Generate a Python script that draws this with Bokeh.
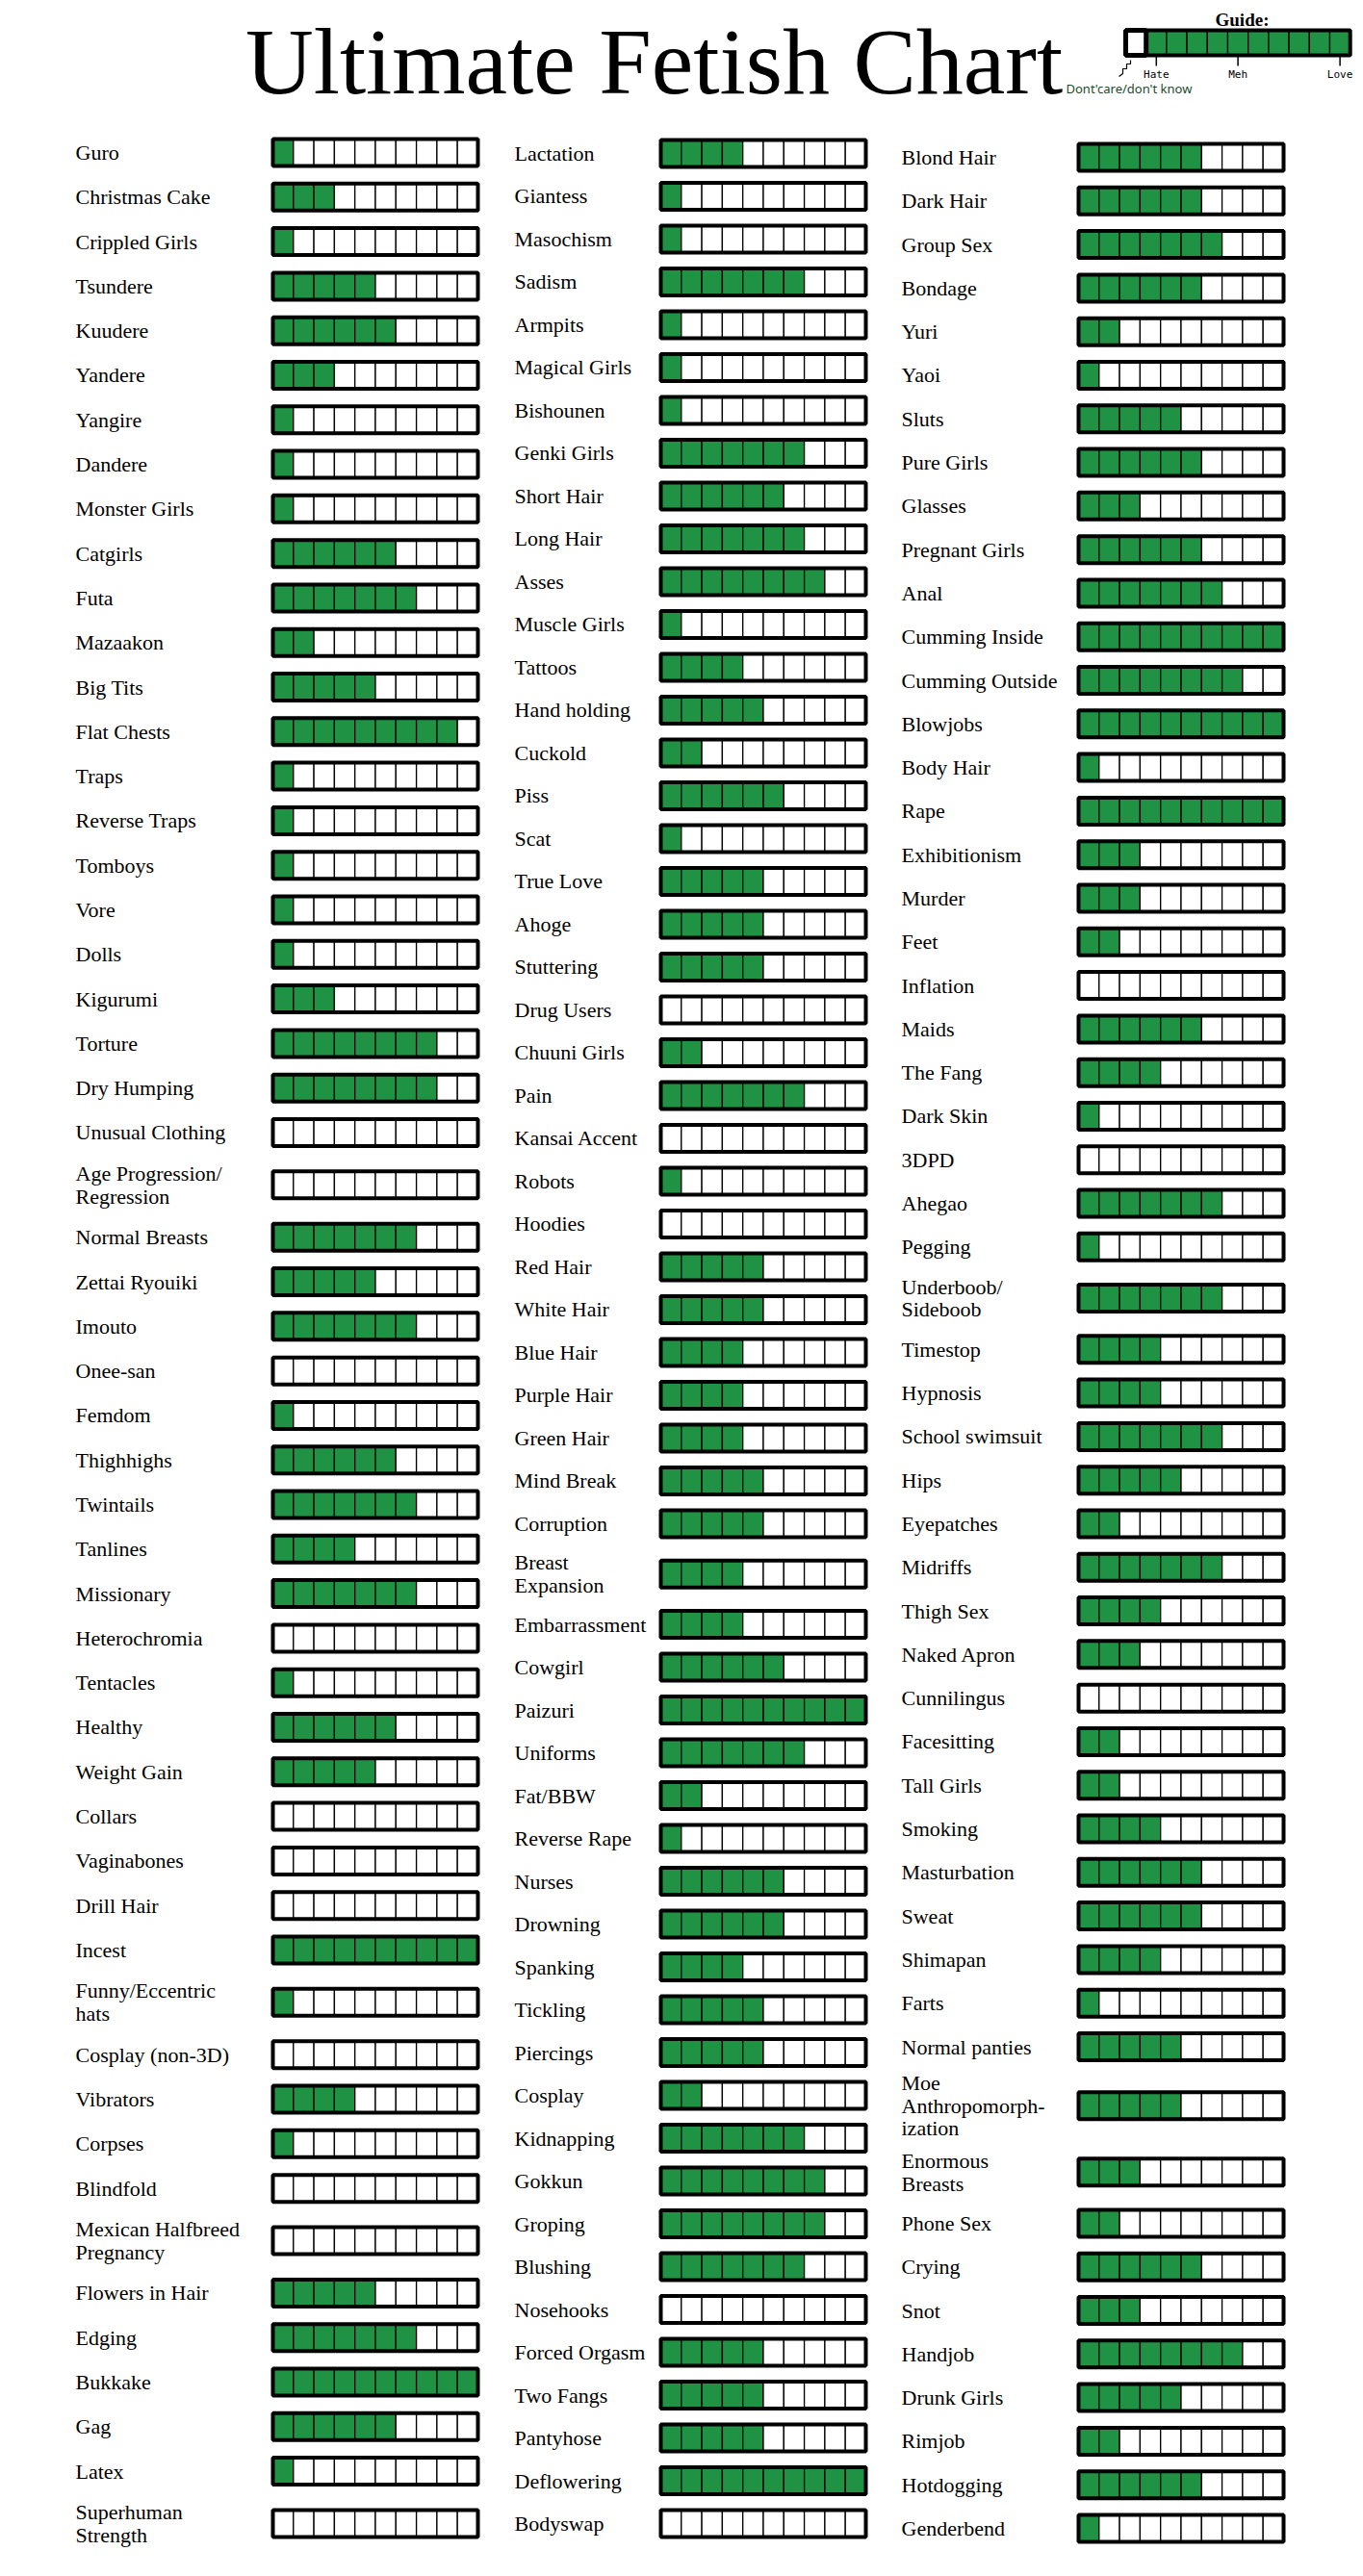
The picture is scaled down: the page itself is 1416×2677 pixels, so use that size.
from bokeh.plotting import figure
from bokeh.models import Range1d, ColumnDataSource
from bokeh.embed import file_html
from bokeh.resources import INLINE
from bokeh.core.properties import value

# ---------------- data ----------------
title = "Ultimate Fetish Chart"
guide_ticks = ["Hate", "Meh", "Love"]
guide_tick_levels = [1, 5, 10]

col1_labels = [
    "Guro", "Christmas Cake", "Crippled Girls", "Tsundere", "Kuudere",
    "Yandere", "Yangire", "Dandere", "Monster Girls", "Catgirls", "Futa",
    "Mazaakon", "Big Tits", "Flat Chests", "Traps", "Reverse Traps",
    "Tomboys", "Vore", "Dolls", "Kigurumi", "Torture", "Dry Humping",
    "Unusual Clothing", "Age Progression/\nRegression", "Normal Breasts",
    "Zettai Ryouiki", "Imouto", "Onee-san", "Femdom", "Thighhighs",
    "Twintails", "Tanlines", "Missionary", "Heterochromia", "Tentacles",
    "Healthy", "Weight Gain", "Collars", "Vaginabones", "Drill Hair",
    "Incest", "Funny/Eccentric\nhats", "Cosplay (non-3D)", "Vibrators",
    "Corpses", "Blindfold", "Mexican Halfbreed\nPregnancy", "Flowers in Hair",
    "Edging", "Bukkake", "Gag", "Latex", "Superhuman\nStrength",
]
col1_values = [
    1, 3, 1, 5, 6,
    3, 1, 1, 1, 6, 7,
    2, 5, 9, 1, 1,
    1, 1, 1, 3, 8, 8,
    0, 0, 7,
    5, 7, 0, 1, 6,
    7, 4, 7, 0, 1,
    6, 5, 0, 0, 0,
    10, 1, 0, 4,
    1, 0, 0, 5,
    7, 10, 6, 1, 0,
]

col2_labels = [
    "Lactation", "Giantess", "Masochism", "Sadism", "Armpits",
    "Magical Girls", "Bishounen", "Genki Girls", "Short Hair", "Long Hair",
    "Asses", "Muscle Girls", "Tattoos", "Hand holding", "Cuckold", "Piss",
    "Scat", "True Love", "Ahoge", "Stuttering", "Drug Users", "Chuuni Girls",
    "Pain", "Kansai Accent", "Robots", "Hoodies", "Red Hair", "White Hair",
    "Blue Hair", "Purple Hair", "Green Hair", "Mind Break", "Corruption",
    "Breast\nExpansion", "Embarrassment", "Cowgirl", "Paizuri", "Uniforms",
    "Fat/BBW", "Reverse Rape", "Nurses", "Drowning", "Spanking", "Tickling",
    "Piercings", "Cosplay", "Kidnapping", "Gokkun", "Groping", "Blushing",
    "Nosehooks", "Forced Orgasm", "Two Fangs", "Pantyhose", "Deflowering",
    "Bodyswap",
]
col2_values = [
    4, 1, 1, 7, 1,
    1, 1, 7, 6, 7,
    8, 1, 4, 5, 2, 6,
    1, 5, 5, 5, 0, 2,
    7, 0, 1, 0, 5, 5,
    4, 4, 4, 5, 5,
    4, 4, 6, 10, 7,
    2, 1, 6, 6, 4, 5,
    5, 2, 7, 8, 8, 7,
    0, 5, 5, 5, 10,
    0,
]

col3_labels = [
    "Blond Hair", "Dark Hair", "Group Sex", "Bondage", "Yuri", "Yaoi",
    "Sluts", "Pure Girls", "Glasses", "Pregnant Girls", "Anal",
    "Cumming Inside", "Cumming Outside", "Blowjobs", "Body Hair",
    "Rape", "Exhibitionism", "Murder", "Feet", "Inflation", "Maids",
    "The Fang", "Dark Skin", "3DPD", "Ahegao", "Pegging",
    "Underboob/\nSideboob", "Timestop", "Hypnosis", "School swimsuit",
    "Hips", "Eyepatches", "Midriffs", "Thigh Sex", "Naked Apron",
    "Cunnilingus", "Facesitting", "Tall Girls", "Smoking", "Masturbation",
    "Sweat", "Shimapan", "Farts", "Normal panties",
    "Moe\nAnthropomorph-\nization", "Enormous\nBreasts", "Phone Sex",
    "Crying", "Snot", "Handjob", "Drunk Girls", "Rimjob", "Hotdogging",
    "Genderbend",
]
col3_values = [
    6, 6, 7, 6, 2, 1,
    5, 6, 3, 6, 7,
    10, 8, 10, 1,
    10, 3, 3, 2, 0, 6,
    4, 1, 0, 7, 1,
    7, 4, 4, 7,
    5, 2, 7, 4, 3,
    0, 2, 2, 4, 6,
    6, 4, 1, 5,
    5, 3, 2,
    6, 3, 8, 5, 2, 6,
    1,
]

# ---------------- layout / style ----------------
GREEN = "#1f9343"
LABEL_FONT = value("Liberation Serif")
N_CELLS = 10
BAR_W = 213.0
BAR_H = 28.0
EXTRA_PER_LINE = 0.35   # extra row room for multi-line labels

columns = [
    dict(labels=col1_labels, values=col1_values, label_x=78, bar_x=283, y0=158, y1=2622),
    dict(labels=col2_labels, values=col2_values, label_x=534, bar_x=686, y0=159, y1=2622),
    dict(labels=col3_labels, values=col3_values, label_x=936, bar_x=1120, y0=163, y1=2627),
]

W, H = 1416, 2677
p = figure(width=W, height=H,
           x_range=Range1d(0, W), y_range=Range1d(H, 0),
           output_backend="svg", toolbar_location=None, min_border=0,
           x_axis_location=None, y_axis_location=None)
p.grid.visible = False
p.outline_line_color = None
p.background_fill_color = "white"
p.border_fill_color = "white"


def row_centres(labels, y0, y1):
    w = [1.0 + EXTRA_PER_LINE * (s.count("\n")) for s in labels]
    pos, acc = [], 0.0
    for i, wi in enumerate(w):
        if i > 0:
            acc += (w[i - 1] + wi) / 2.0
        pos.append(acc)
    unit = (y1 - y0) / pos[-1]
    return [y0 + q * unit for q in pos]


cw = BAR_W / N_CELLS
for col in columns:
    labs, vals = col["labels"], col["values"]
    n = len(labs)
    ys = row_centres(labs, col["y0"], col["y1"])

    cl, cr, ct, cb, cf = [], [], [], [], []
    ol, orr, ot, ob = [], [], [], []
    for y, v in zip(ys, vals):
        for j in range(N_CELLS):
            cl.append(col["bar_x"] + j * cw)
            cr.append(col["bar_x"] + (j + 1) * cw)
            ct.append(y - BAR_H / 2)
            cb.append(y + BAR_H / 2)
            cf.append(GREEN if j < v else "white")
        ol.append(col["bar_x"]); orr.append(col["bar_x"] + BAR_W)
        ot.append(y - BAR_H / 2); ob.append(y + BAR_H / 2)

    p.quad(left=cl, right=cr, top=ct, bottom=cb, fill_color=cf,
           line_color="black", line_width=1.3)
    p.quad(left=ol, right=orr, top=ot, bottom=ob, fill_color=None,
           line_color="black", line_width=4)

    src = ColumnDataSource(dict(x=[col["label_x"]] * n, y=ys, t=labs))
    p.text(x="x", y="y", text="t", source=src, text_font=LABEL_FONT,
           text_font_size="22px", text_baseline="middle", text_align="left",
           text_color="black", text_line_height=0.95)

# ---------------- title ----------------
p.text(x=[679], y=[63], text=[title], text_font=value("Liberation Serif"),
       text_font_size="98px", text_align="center", text_baseline="middle",
       text_color="black")

# ---------------- guide ----------------
gx0, gy0, gcell, gh = 1169.0, 31.0, 21.2, 26.0
g_l = [gx0 + k * gcell for k in range(11)]
g_r = [gx0 + (k + 1) * gcell for k in range(11)]
g_f = ["white"] + [GREEN] * 10
p.quad(left=g_l, right=g_r, top=[gy0] * 11, bottom=[gy0 + gh] * 11,
       fill_color=g_f, line_color="black", line_width=1.3)
p.quad(left=[gx0], right=[gx0 + gcell], top=[gy0], bottom=[gy0 + gh],
       fill_color=None, line_color="black", line_width=5)
p.quad(left=[gx0], right=[g_r[-1]], top=[gy0], bottom=[gy0 + gh],
       fill_color=None, line_color="black", line_width=4)

tick_x = [gx0 + (lv + 0.5) * gcell for lv in guide_tick_levels]
p.segment(x0=tick_x, x1=tick_x, y0=[gy0 + gh] * 3, y1=[gy0 + gh + 11] * 3,
          line_color="black", line_width=1.5)
p.text(x=tick_x, y=[gy0 + gh + 20] * 3, text=guide_ticks,
       text_font=value("DejaVu Sans Mono"), text_font_size="11px",
       text_align="center", text_baseline="middle", text_color="black")
p.text(x=[1290], y=[20], text=["Guide:"], text_font=value("Liberation Serif"),
       text_font_size="19px", text_font_style="bold", text_align="center",
       text_baseline="middle", text_color="black")
p.text(x=[1107], y=[91], text=["Dont'care/don't know"], text_font=value("Noto Sans"),
       text_font_size="13px", text_align="left", text_baseline="middle",
       text_color="#1d4a2c")
# little stepped pointer from the empty cell towards the note
p.line(x=[1174, 1174, 1170, 1170, 1166, 1166, 1162],
       y=[62, 66, 66, 71, 71, 76, 79], line_color="black", line_width=1.2)

open("out.html", "w").write(file_html(p, INLINE))
